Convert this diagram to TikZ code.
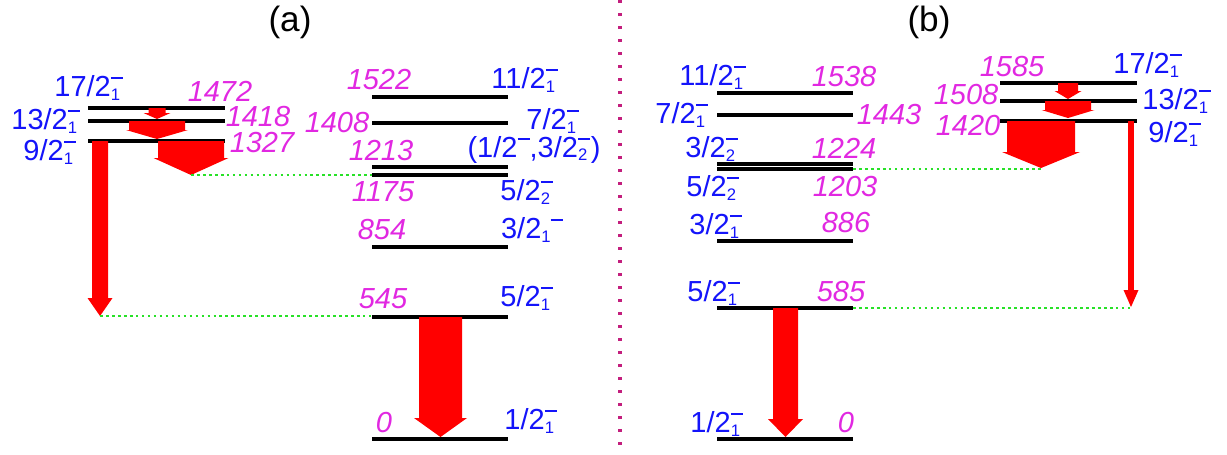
\documentclass[tikz,border=0pt]{standalone}
\usepackage{fontspec}
\setmainfont{Liberation Sans}
\usetikzlibrary{calc}

\definecolor{jcol}{RGB}{20,20,250}
\definecolor{ecol}{RGB}{225,40,225}
\definecolor{gcol}{RGB}{40,225,40}
\definecolor{divcol}{RGB}{195,30,125}

% fat gamma arrow: centre x, half shaft, half head, top y, head start y, tip y
\newcommand{\fatarrow}[6]{%
  \fill[red] (#1-#2,#4) -- (#1+#2,#4) -- (#1+#2,#5) -- (#1+#3,#5)
    -- (#1,#6) -- (#1-#3,#5) -- (#1-#2,#5) -- cycle;}
% spin labels: raised minus and lowered index
\newcommand{\jsup}{\raisebox{0.6em}{\rule{0.42em}{0.07em}}}
\newcommand{\jsub}[1]{\raisebox{-0.12em}{\fontsize{9.5}{9.5}\selectfont #1}}
\newcommand{\jpi}[2]{#1/2\makebox[0.44em][l]{\rlap{\jsup}\jsub{#2}}}

\begin{document}
\begin{tikzpicture}[x=0.02cm, y=-0.02cm,
  level/.style={line width=1.8pt},
  jlab/.style={text=jcol, font=\fontsize{16.5}{18}\selectfont, inner sep=0pt},
  elab/.style={text=ecol, font=\fontsize{16.5}{18}\selectfont\itshape, inner sep=0pt},
  link/.style={gcol, line width=1.1pt, dash pattern=on 1.5pt off 1.9pt},
  title/.style={font=\fontsize{20}{24}\selectfont, inner sep=0pt}]
  \useasboundingbox (0,0) rectangle (1227,454);

  % ---------- (a) ----------
  \node[title] (ta) at (290,22) {(a)};

  % band of the yrast cascade
  \draw[level] (88,108) -- (225,108);
  \draw[level] (88,121) -- (225,121);
  \draw[level] (88,141) -- (225,141);
  \node[jlab] (aj17) at (89,88) {\jpi{17}{1}};
  \node[jlab] (aj13) at (46,121) {\jpi{13}{1}};
  \node[jlab] (aj9) at (50,152) {\jpi{9}{1}};
  \node[elab] (ae1472) at (220,91) {1472};
  \node[elab] (ae1418) at (258,117) {1418};
  \node[elab] (ae1327) at (262,143) {1327};

  \fatarrow{157}{8.5}{13.5}{108}{113}{119}
  \fatarrow{157}{28}{31}{121}{130}{139}
  \fatarrow{191}{33}{37.5}{141}{158}{175}
  \fatarrow{100}{8}{12.5}{141}{298}{316}

  % low-lying levels
  \draw[level] (372,97) -- (508,97);
  \draw[level] (372,123) -- (508,123);
  \draw[level] (372,167) -- (508,167);
  \draw[level] (372,175) -- (508,175);
  \draw[level] (372,247) -- (508,247);
  \draw[level] (372,317) -- (508,317);
  \draw[level] (372,439) -- (508,439);
  \node[elab] (ae1522) at (379,80) {1522};
  \node[elab] (ae1408) at (337,123) {1408};
  \node[elab] (ae1213) at (381,151) {1213};
  \node[elab] (ae1175) at (383,192) {1175};
  \node[elab] (ae854) at (382,230) {854};
  \node[elab] (ae545) at (383,299) {545};
  \node[elab] (ae0) at (384,423) {0};
  \node[jlab] (aj11) at (525,80) {\jpi{11}{1}};
  \node[jlab] (aj7) at (553,121) {\jpi{7}{1}};
  \node[jlab] (aj13a) at (534,150) {(1/2\jsup,\jpi{3}{2})};
  \node[jlab] (aj5b) at (527,192) {\jpi{5}{2}};
  \node[jlab] (aj3) at (532,230) {3/2\jsub{1}\jsup};
  \node[jlab] (aj5) at (527,298) {\jpi{5}{1}};
  \node[jlab] (aj1) at (531,421) {\jpi{1}{1}};

  \fatarrow{440.5}{21.5}{26.5}{317}{418}{437}

  \draw[link] (191,175) -- (372,175);
  \draw[link] (100,316) -- (372,316);

  % divider
  \draw[divcol, line width=1.8pt, dash pattern=on 1.7pt off 5.7pt] (620,0) -- (620,454);

  % ---------- (b) ----------
  \node[title] (tb) at (929,22) {(b)};

  % low-lying levels
  \draw[level] (717,93) -- (853,93);
  \draw[level] (717,115) -- (853,115);
  \draw[level] (717,164) -- (853,164);
  \draw[level] (717,169) -- (853,169);
  \draw[level] (717,241) -- (853,241);
  \draw[level] (717,308) -- (853,308);
  \draw[level] (717,439) -- (853,439);
  \node[jlab] (bj11) at (713,77) {\jpi{11}{1}};
  \node[jlab] (bj7) at (682,115) {\jpi{7}{1}};
  \node[jlab] (bj3b) at (712,149) {\jpi{3}{2}};
  \node[jlab] (bj5b) at (713,188) {\jpi{5}{2}};
  \node[jlab] (bj3) at (716,226) {\jpi{3}{1}};
  \node[jlab] (bj5) at (714,293) {\jpi{5}{1}};
  \node[jlab] (bj1) at (717,424) {\jpi{1}{1}};
  \node[elab] (be1538) at (844,77) {1538};
  \node[elab] (be1443) at (889,115) {1443};
  \node[elab] (be1224) at (844,148) {1224};
  \node[elab] (be1203) at (845,187) {1203};
  \node[elab] (be886) at (846,223) {886};
  \node[elab] (be585) at (841,292) {585};
  \node[elab] (be0) at (846,423) {0};

  \fatarrow{785.5}{12.5}{17.5}{308}{419}{437}

  % band of the yrast cascade
  \draw[level] (1000,83) -- (1137,83);
  \draw[level] (1000,101) -- (1137,101);
  \draw[level] (1000,121) -- (1137,121);
  \node[elab] (be1585) at (1012,67) {1585};
  \node[elab] (be1508) at (966,95) {1508};
  \node[elab] (be1420) at (968,126) {1420};
  \node[jlab] (bj17) at (1148,65) {\jpi{17}{1}};
  \node[jlab] (bj13) at (1177,101) {\jpi{13}{1}};
  \node[jlab] (bj9) at (1175,134) {\jpi{9}{1}};

  \fatarrow{1068}{10}{13.5}{83}{91}{99}
  \fatarrow{1068}{23}{26.5}{101}{110}{118}
  \fatarrow{1041}{34}{39}{121}{152}{168}
  \fatarrow{1131}{2.8}{7.5}{121}{290}{307}

  \draw[link] (853,169) -- (1041,169);
  \draw[link] (853,308) -- (1131,308);
\end{tikzpicture}
\end{document}
